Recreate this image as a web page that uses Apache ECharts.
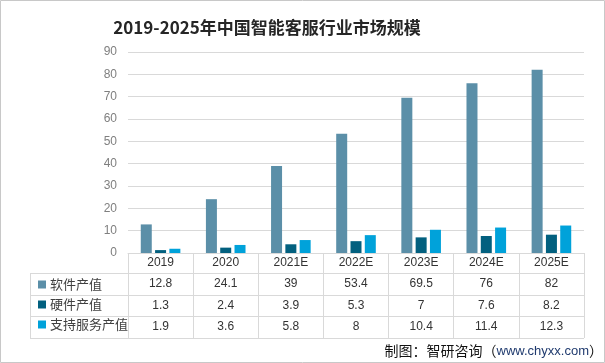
<!DOCTYPE html>
<html><head><meta charset="utf-8">
<script src="https://cdn.jsdelivr.net/npm/echarts@6/dist/echarts.min.js"></script>
<style>html,body{margin:0;padding:0;background:#fff}#c{width:605px;height:363px}</style>
</head><body><div id="c"></div>
<script>
var categories = ['2019','2020','2021E','2022E','2023E','2024E','2025E'];
var seriesNames = ['软件产值','硬件产值','支持服务产值'];
var software = [12.8, 24.1, 39, 53.4, 69.5, 76, 82];
var hardware = [1.3, 2.4, 3.9, 5.3, 7, 7.6, 8.2];
var service = [1.9, 3.6, 5.8, 8, 10.4, 11.4, 12.3];
var colors = ['#5b8fa8', '#02607f', '#00a2da'];

var L = 128, R = 584, T = 52, B = 253;
var rowBottoms = [273, 295, 316, 338];
var gridColor = '#d9d9d9';

var chart = echarts.init(document.getElementById('c'), null, {renderer: 'canvas'});
function rowAxis(vals, off) {
  return {
    type: 'category', gridIndex: 0, position: 'bottom', offset: off,
    data: vals.map(String),
    axisLine: {show: false}, axisTick: {show: false},
    axisLabel: {margin: 4, fontSize: 12, color: '#333', fontFamily: 'Liberation Sans, Arial, sans-serif'}
  };
}
var graphics = [
  {type: 'rect', shape: {x: 0.5, y: 0.5, width: 604, height: 362}, style: {fill: 'none', stroke: '#c8c8c8', lineWidth: 1}, silent: true},
  {type: 'line', shape: {x1: 30, y1: rowBottoms[0] + 0.5, x2: R, y2: rowBottoms[0] + 0.5}, style: {stroke: gridColor, lineWidth: 1}},
  {type: 'line', shape: {x1: 30, y1: rowBottoms[1] + 0.5, x2: R, y2: rowBottoms[1] + 0.5}, style: {stroke: gridColor, lineWidth: 1}},
  {type: 'line', shape: {x1: 30, y1: rowBottoms[2] + 0.5, x2: R, y2: rowBottoms[2] + 0.5}, style: {stroke: gridColor, lineWidth: 1}},
  {type: 'line', shape: {x1: 30, y1: rowBottoms[3] + 0.5, x2: R, y2: rowBottoms[3] + 0.5}, style: {stroke: gridColor, lineWidth: 1}},
  {type: 'line', shape: {x1: 30.5, y1: rowBottoms[0], x2: 30.5, y2: rowBottoms[3]}, style: {stroke: gridColor, lineWidth: 1}},
  {type: 'text', right: 2, top: 344, style: {
    text: '{a|制图：智研咨询（}{b|www.chyxx.com}{a|）}',
    rich: {
      a: {fontSize: 14, fill: '#111', fontFamily: 'Noto Sans CJK SC'},
      b: {fontSize: 13, fill: '#1f3a6e', fontFamily: 'Liberation Sans, Arial'}
    }
  }}
];
var option = {
  animation: false,
  color: colors,
  title: {
    text: '2019-2025年中国智能客服行业市场规模',
    left: 262, top: 14, textAlign: 'center',
    textStyle: {fontSize: 17, fontWeight: 'bold', color: '#262626', fontFamily: 'Noto Sans CJK SC'}
  },
  legend: {
    orient: 'vertical', left: 33, top: 273,
    icon: 'rect', itemWidth: 8, itemHeight: 8, itemGap: 7,
    data: seriesNames,
    textStyle: {fontSize: 13, color: '#404040', fontFamily: 'Noto Sans CJK SC', padding: [0, 0, 0, -1]}
  },
  grid: {left: L, right: 605 - R, top: T, bottom: 363 - B, containLabel: false},
  xAxis: [
    {
      type: 'category', data: categories, position: 'bottom',
      axisLine: {lineStyle: {color: gridColor}},
      axisTick: {show: true, length: rowBottoms[3] - B, lineStyle: {color: gridColor}},
      axisLabel: {margin: 4, fontSize: 12, color: '#333', fontFamily: 'Liberation Sans, Arial, sans-serif'}
    },
    rowAxis(software, 21),
    rowAxis(hardware, 43),
    rowAxis(service, 64)
  ],
  yAxis: {
    type: 'value', min: 0, max: 90, interval: 10,
    axisLine: {show: false}, axisTick: {show: false},
    axisLabel: {margin: 11, fontSize: 12, color: '#7f7f7f', fontFamily: 'Liberation Sans, Arial, sans-serif'},
    splitLine: {lineStyle: {color: gridColor}}
  },
  series: [
    {name: seriesNames[0], type: 'bar', data: software, barWidth: 11, barGap: '30%', itemStyle: {color: colors[0]}},
    {name: seriesNames[1], type: 'bar', data: hardware, barWidth: 11, barGap: '30%', itemStyle: {color: colors[1]}},
    {name: seriesNames[2], type: 'bar', data: service, barWidth: 11, barGap: '30%', itemStyle: {color: colors[2]}}
  ],
  graphic: graphics
};
chart.setOption(option);
</script></body></html>
